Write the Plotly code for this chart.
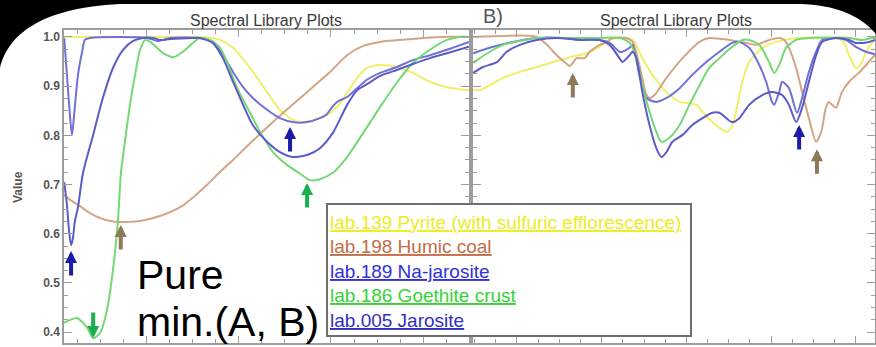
import plotly.graph_objects as go

W, H = 876, 347
FONT = "Liberation Sans, Arial, sans-serif"

# ---------------- legend / series ----------------
names = ["lab.139 Pyrite (with sulfuric efflorescence)", "lab.198 Humic coal",
         "lab.189 Na-jarosite", "lab.186 Goethite crust", "lab.005 Jarosite"]
line_colors = ["#f0ee6a", "#d4a484", "#7070d8", "#74d874", "#5c5cc8"]
text_colors = ["#ecec1e", "#c46c44", "#3030e0", "#36d236", "#3030c4"]

# ---------------- panel A (VNIR), wavelength in micrometres ----------------
pyr_a_x = [0.420, 0.600, 0.715, 0.743, 0.759, 0.787, 0.824, 0.861, 0.889, 0.911,
           0.933, 0.961, 0.991, 1.013, 1.035, 1.057, 1.078, 1.107, 1.143, 1.178,
           1.215, 1.252, 1.280, 1.300]
pyr_a_y = [1.000, 1.000, 1.000, 0.998, 0.994, 0.978, 0.937, 0.888, 0.852, 0.835,
           0.827, 0.831, 0.841, 0.858, 0.886, 0.917, 0.937, 0.943, 0.939, 0.927,
           0.909, 0.898, 0.894, 0.892]

coal_a_x = [0.420, 0.433, 0.450, 0.476, 0.498, 0.520, 0.541, 0.585, 0.628, 0.672,
            0.704, 0.730, 0.759, 0.787, 0.830, 0.896, 0.933, 0.965, 0.998, 1.035,
            1.070, 1.107, 1.178, 1.237, 1.300]
coal_a_y = [0.679, 0.669, 0.659, 0.642, 0.632, 0.626, 0.624, 0.626, 0.636, 0.654,
            0.677, 0.699, 0.726, 0.750, 0.789, 0.846, 0.876, 0.902, 0.929, 0.963,
            0.982, 0.990, 0.996, 1.000, 1.000]

najar_a_x = [0.420, 0.426, 0.433, 0.437, 0.443, 0.450, 0.459, 0.465, 0.476, 0.600,
             0.622, 0.635, 0.650, 0.715, 0.743, 0.765, 0.787, 0.809, 0.830, 0.861,
             0.889, 0.917, 0.948, 0.976, 0.991, 0.998, 1.013, 1.035, 1.078, 1.107,
             1.143, 1.178, 1.215, 1.252, 1.300]
najar_a_y = [0.998, 0.923, 0.835, 0.801, 0.856, 0.923, 0.970, 0.994, 0.998, 0.998,
             0.992, 0.994, 0.998, 0.998, 0.990, 0.963, 0.929, 0.898, 0.876, 0.852,
             0.835, 0.827, 0.827, 0.835, 0.843, 0.852, 0.868, 0.878, 0.913, 0.927,
             0.939, 0.953, 0.963, 0.974, 0.990]

goe_a_x = [0.420, 0.433, 0.448, 0.459, 0.470, 0.483, 0.498, 0.513, 0.526, 0.537,
           0.543, 0.552, 0.563, 0.574, 0.585, 0.596, 0.607, 0.622, 0.635, 0.657,
           0.678, 0.700, 0.715, 0.737, 0.759, 0.774, 0.796, 0.824, 0.846, 0.874,
           0.904, 0.933, 0.954, 0.976, 1.004, 1.035, 1.070, 1.107, 1.143, 1.178,
           1.215, 1.252, 1.280, 1.300]
goe_a_y = [0.419, 0.425, 0.429, 0.421, 0.409, 0.388, 0.398, 0.445, 0.526, 0.628,
           0.720, 0.787, 0.862, 0.923, 0.974, 0.994, 0.990, 0.978, 0.967, 0.959,
           0.970, 0.988, 0.998, 0.994, 0.978, 0.949, 0.896, 0.846, 0.807, 0.766,
           0.740, 0.722, 0.709, 0.711, 0.724, 0.756, 0.805, 0.858, 0.907, 0.947,
           0.974, 0.994, 1.000, 1.000]

jar_a_x = [0.420, 0.426, 0.430, 0.435, 0.439, 0.443, 0.450, 0.461, 0.483, 0.504,
           0.526, 0.548, 0.570, 0.591, 0.613, 0.628, 0.650, 0.700, 0.715, 0.743,
           0.765, 0.787, 0.809, 0.830, 0.861, 0.889, 0.917, 0.948, 0.976, 1.004,
           1.035, 1.057, 1.078, 1.107, 1.143, 1.178, 1.215, 1.252, 1.300]
jar_a_y = [0.705, 0.659, 0.612, 0.577, 0.591, 0.624, 0.654, 0.724, 0.801, 0.876,
           0.937, 0.974, 0.992, 0.998, 0.998, 0.994, 0.996, 0.998, 0.998, 0.988,
           0.957, 0.909, 0.862, 0.821, 0.787, 0.766, 0.756, 0.760, 0.774, 0.805,
           0.862, 0.892, 0.904, 0.921, 0.933, 0.945, 0.957, 0.967, 0.980]

# ---------------- panel B (SWIR), wavelength in micrometres ----------------
pyr_b_x = [1.497, 1.513, 1.536, 1.567, 1.607, 1.647, 1.685, 1.725, 1.765, 1.795,
           1.819, 1.842, 1.873, 1.896, 1.920, 1.953, 1.984, 2.000, 2.024, 2.038,
           2.061, 2.085, 2.096, 2.108, 2.118, 2.132, 2.148, 2.179, 2.212, 2.259,
           2.320, 2.367, 2.384, 2.400, 2.414, 2.424, 2.438, 2.445]
pyr_b_y = [0.892, 0.892, 0.902, 0.917, 0.929, 0.939, 0.949, 0.959, 0.967, 0.980,
           0.994, 0.998, 0.994, 0.957, 0.923, 0.888, 0.868, 0.866, 0.862, 0.848,
           0.827, 0.811, 0.807, 0.819, 0.852, 0.909, 0.949, 0.978, 0.990, 0.998,
           0.998, 0.994, 0.963, 0.937, 0.949, 0.970, 0.988, 0.994]

coal_b_x = [1.497, 1.647, 1.671, 1.694, 1.718, 1.725, 1.732, 1.741, 1.760, 1.772,
            1.795, 1.812, 1.826, 1.859, 1.873, 1.889, 1.906, 1.913, 1.925, 1.953,
            1.991, 2.031, 2.054, 2.101, 2.141, 2.165, 2.195, 2.219, 2.231, 2.242,
            2.259, 2.273, 2.289, 2.306, 2.318, 2.329, 2.336, 2.344, 2.353, 2.367,
            2.384, 2.407, 2.424, 2.438, 2.445]
coal_b_y = [1.000, 1.000, 0.984, 0.963, 0.945, 0.941, 0.947, 0.957, 0.957, 0.970,
            0.984, 0.990, 0.998, 0.998, 0.990, 0.943, 0.882, 0.876, 0.882, 0.917,
            0.957, 0.990, 0.998, 0.994, 0.988, 0.984, 0.994, 0.998, 0.994, 0.978,
            0.937, 0.888, 0.835, 0.787, 0.807, 0.856, 0.868, 0.862, 0.856, 0.888,
            0.909, 0.927, 0.943, 0.957, 0.963]

najar_b_x = [1.497, 1.536, 1.591, 1.647, 1.708, 1.748, 1.795, 1.819, 1.842, 1.849,
             1.866, 1.873, 1.889, 1.906, 1.929, 1.953, 1.984, 2.014, 2.047, 2.078,
             2.108, 2.125, 2.148, 2.172, 2.188, 2.202, 2.207, 2.219, 2.226, 2.242,
             2.261, 2.273, 2.289, 2.306, 2.320, 2.353, 2.376, 2.400, 2.424, 2.445]
najar_b_y = [0.967, 0.978, 0.990, 0.998, 0.998, 0.994, 0.994, 0.988, 0.970, 0.970,
             0.978, 0.984, 0.923, 0.876, 0.868, 0.876, 0.896, 0.923, 0.949, 0.970,
             0.988, 0.990, 0.978, 0.943, 0.909, 0.868, 0.862, 0.888, 0.909, 0.896,
             0.846, 0.876, 0.929, 0.970, 0.994, 0.998, 0.994, 0.980, 0.970, 0.965]

goe_b_x = [1.497, 1.513, 1.536, 1.567, 1.607, 1.647, 1.725, 1.795, 1.842, 1.866,
           1.882, 1.896, 1.913, 1.929, 1.941, 1.960, 1.984, 2.007, 2.031, 2.054,
           2.078, 2.108, 2.132, 2.148, 2.172, 2.195, 2.207, 2.219, 2.235, 2.259,
           2.289, 2.384, 2.414, 2.438, 2.445]
goe_b_y = [0.947, 0.957, 0.970, 0.984, 0.992, 0.998, 0.998, 0.998, 0.998, 0.988,
           0.957, 0.902, 0.848, 0.807, 0.787, 0.795, 0.821, 0.862, 0.902, 0.937,
           0.957, 0.980, 0.994, 0.994, 0.984, 0.949, 0.927, 0.943, 0.978, 0.994,
           0.998, 0.998, 0.994, 0.998, 0.998]

jar_b_x = [1.497, 1.520, 1.553, 1.576, 1.607, 1.647, 1.694, 1.748, 1.795, 1.819,
           1.842, 1.849, 1.866, 1.873, 1.882, 1.896, 1.913, 1.929, 1.941, 1.953,
           1.967, 1.991, 2.014, 2.038, 2.061, 2.078, 2.094, 2.108, 2.125, 2.148,
           2.179, 2.202, 2.226, 2.242, 2.259, 2.273, 2.289, 2.306, 2.320, 2.353,
           2.384, 2.400, 2.431, 2.445]
jar_b_y = [0.927, 0.939, 0.949, 0.970, 0.984, 0.994, 0.998, 0.994, 0.994, 0.984,
           0.957, 0.949, 0.963, 0.970, 0.957, 0.888, 0.821, 0.774, 0.756, 0.766,
           0.787, 0.801, 0.821, 0.835, 0.846, 0.846, 0.835, 0.827, 0.835, 0.862,
           0.882, 0.888, 0.882, 0.862, 0.827, 0.856, 0.909, 0.963, 0.990, 0.998,
           0.994, 0.988, 0.990, 0.994]

# ---------------- absorption-feature arrows ----------------
arrow_panel = ["A", "A", "A", "A", "A", "B", "B", "B"]
arrow_um = [0.435, 0.483, 0.543, 0.911, 0.948, 1.732, 2.266, 2.308]
arrow_val = [0.565, 0.388, 0.618, 0.817, 0.703, 0.927, 0.821, 0.772]
arrow_dir = ["up", "down", "up", "up", "up", "up", "up", "up"]
arrow_col = ["#1c1ca8", "#18b04c", "#8c7a58", "#1c1ca8", "#18b04c",
             "#8c7a58", "#1c1ca8", "#8c7a58"]

# y axis ticks
y_ticks = [0.4, 0.5, 0.6, 0.7, 0.8, 0.9, 1.0]

panel_a = [(pyr_a_x, pyr_a_y), (coal_a_x, coal_a_y), (najar_a_x, najar_a_y),
           (goe_a_x, goe_a_y), (jar_a_x, jar_a_y)]
panel_b = [(pyr_b_x, pyr_b_y), (coal_b_x, coal_b_y), (najar_b_x, najar_b_y),
           (goe_b_x, goe_b_y), (jar_b_x, jar_b_y)]


def X(px):
    return px / W


def Y(py):
    return 1 - py / H


fig = go.Figure()
for i, (xs, ys) in enumerate(panel_a):
    fig.add_trace(go.Scatter(x=xs, y=ys, mode="lines", name=names[i], showlegend=False,
                             line=dict(color=line_colors[i], width=2, shape="spline", smoothing=0.7),
                             xaxis="x", yaxis="y", hoverinfo="skip"))
for i, (xs, ys) in enumerate(panel_b):
    fig.add_trace(go.Scatter(x=xs, y=ys, mode="lines", name=names[i], showlegend=False,
                             line=dict(color=line_colors[i], width=2, shape="spline", smoothing=0.7),
                             xaxis="x2", yaxis="y2", hoverinfo="skip"))

AX = "#9c9c9c"
ydom = [Y(343), Y(30)]
yrange = [0.378, 1.0142]
common_x = dict(showline=True, linecolor=AX, linewidth=1.5, mirror="allticks",
                ticks="inside", ticklen=7, tickcolor=AX, tickwidth=1,
                dtick=0.2, tick0=0, showticklabels=False, showgrid=False, zeroline=False,
                minor=dict(dtick=0.05, tick0=0, ticks="inside", ticklen=4, tickcolor=AX, showgrid=False))
common_y = dict(showline=True, linecolor=AX, linewidth=1.5, mirror="allticks",
                ticks="inside", ticklen=8, tickcolor=AX, tickwidth=1,
                tickvals=y_ticks, tickformat=".1f", range=yrange, domain=ydom,
                showgrid=False, zeroline=False,
                minor=dict(dtick=0.025, tick0=0, ticks="inside", ticklen=4, tickcolor=AX, showgrid=False))

fig.update_layout(
    width=W, height=H, autosize=False,
    margin=dict(l=0, r=0, t=0, b=0),
    paper_bgcolor="white", plot_bgcolor="white",
    xaxis=dict(domain=[X(64), X(469)], range=[0.4196, 1.300], anchor="y", **common_x),
    yaxis=dict(anchor="x", showticklabels=True,
               tickfont=dict(family=FONT, size=12, color="#555555", weight="bold"), **common_y),
    xaxis2=dict(domain=[X(473), X(875)], range=[1.4965, 2.445], anchor="y2", **common_x),
    yaxis2=dict(anchor="x2", showticklabels=False, **common_y),
)

shapes = []
# black rounded slide frame at the top corners
frame = (f"M {X(0)},{Y(0)} L {X(0)},{Y(68)} "
         f"C {X(8)},{Y(35)} {X(40)},{Y(8)} {X(120)},{Y(4)} "
         f"L {X(800)},{Y(4)} "
         f"C {X(835)},{Y(5)} {X(860)},{Y(15)} {X(876)},{Y(34)} "
         f"L {X(876)},{Y(0)} Z")
shapes.append(dict(type="path", path=frame, xref="paper", yref="paper",
                   fillcolor="black", line=dict(width=0), layer="above"))
# legend box
shapes.append(dict(type="rect", xref="paper", yref="paper",
                   x0=X(327), x1=X(691), y0=Y(336), y1=Y(204),
                   fillcolor="white", line=dict(color="#6e6e6e", width=2), layer="above"))
fig.update_layout(shapes=shapes)

ann = []
for cx in (266, 676):
    ann.append(dict(text="Spectral Library Plots", x=X(cx), y=Y(21), xref="paper", yref="paper",
                    showarrow=False, xanchor="center", yanchor="middle",
                    font=dict(family=FONT, size=16, color="#3a3a3a")))
ann.append(dict(text="B)", x=X(481), y=Y(16), xref="paper", yref="paper", showarrow=False,
                xanchor="left", yanchor="middle", font=dict(family=FONT, size=20, color="#555555")))
ann.append(dict(text="Value", x=X(18), y=Y(187), xref="paper", yref="paper", showarrow=False,
                textangle=-90, xanchor="center", yanchor="middle",
                font=dict(family=FONT, size=12, color="#555555", weight="bold")))
# legend entries
leg_y = [222.5, 246.5, 271, 295.5, 320]
for i, nm in enumerate(names):
    ann.append(dict(text=f"<u>{nm}</u>", x=X(327.5), y=Y(leg_y[i]), xref="paper", yref="paper",
                    showarrow=False, xanchor="left", yanchor="middle",
                    font=dict(family=FONT, size=19, color=text_colors[i])))
# big overlay text
ann.append(dict(text="Pure", x=X(135), y=Y(275), xref="paper", yref="paper", showarrow=False,
                xanchor="left", yanchor="middle", font=dict(family=FONT, size=41, color="black")))
ann.append(dict(text="min.(A, B)", x=X(135), y=Y(322), xref="paper", yref="paper", showarrow=False,
                xanchor="left", yanchor="middle", font=dict(family=FONT, size=41, color="black")))
# arrows
for p, ux, uv, d, c in zip(arrow_panel, arrow_um, arrow_val, arrow_dir, arrow_col):
    xr, yr = ("x", "y") if p == "A" else ("x2", "y2")
    ann.append(dict(text="", x=ux, y=uv, xref=xr, yref=yr, showarrow=True,
                    ax=0, ay=26 if d == "up" else -27, arrowhead=2, arrowsize=0.6,
                    arrowwidth=4, arrowcolor=c, standoff=0))
fig.update_layout(annotations=ann)

fig.write_html("out.html", config={"displayModeBar": False},
               post_script="document.body.style.margin='0';document.body.style.overflow='hidden';")
